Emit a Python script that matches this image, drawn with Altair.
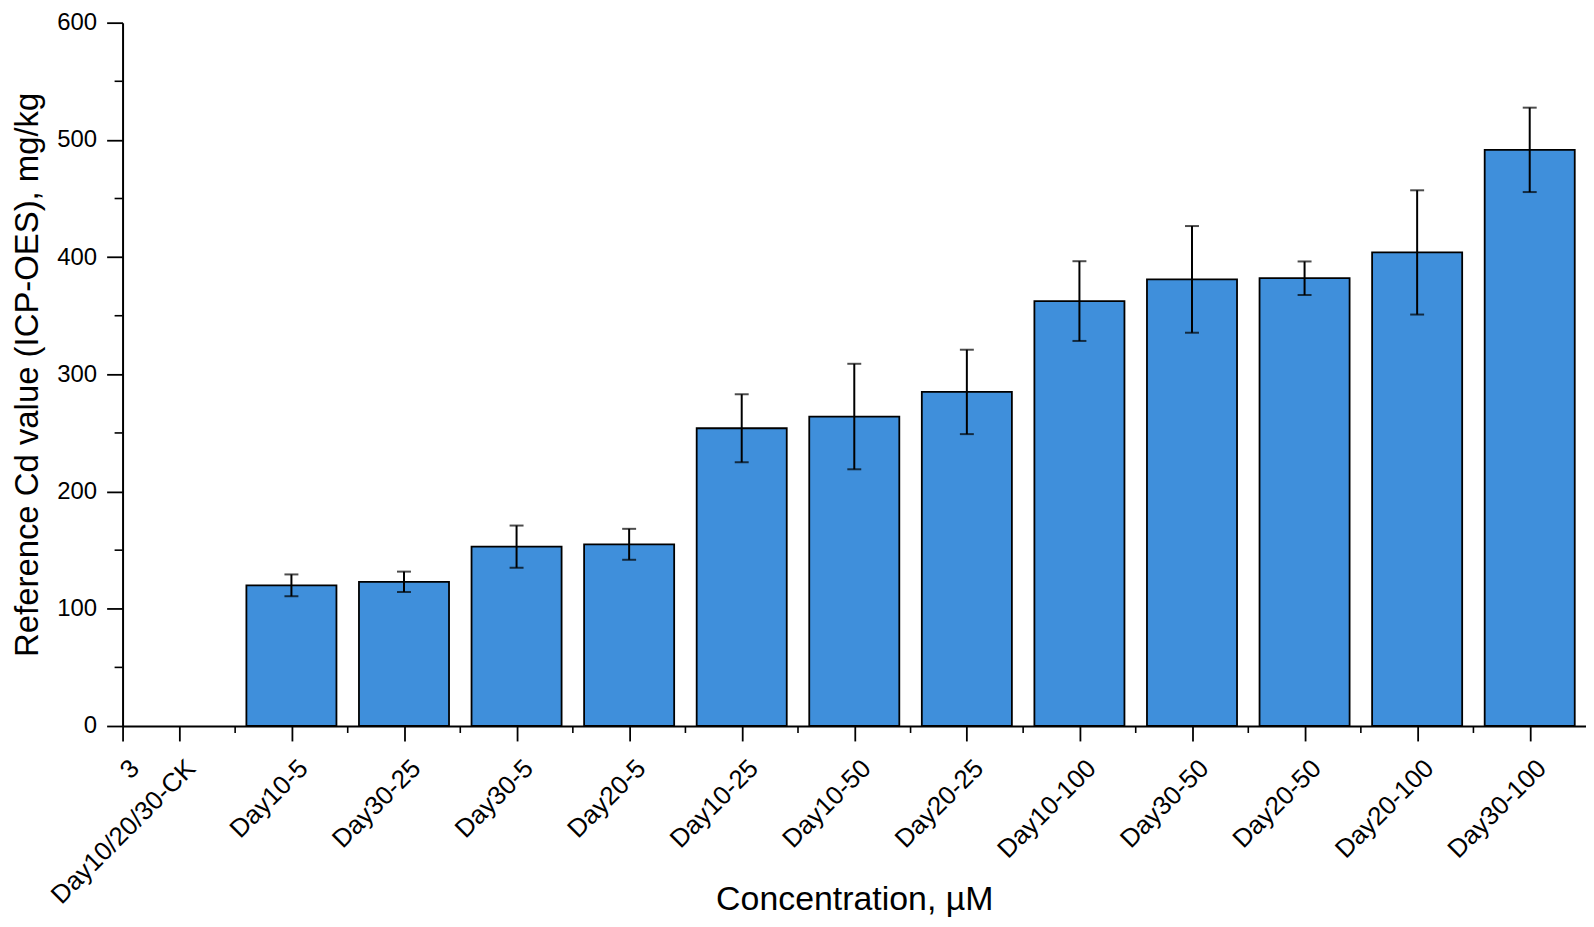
import altair as alt
import pandas as pd

# ---- data ----
categories = ["Day10/20/30-CK", "Day10-5", "Day30-25", "Day30-5", "Day20-5",
              "Day10-25", "Day10-50", "Day20-25", "Day10-100", "Day30-50",
              "Day20-50", "Day20-100", "Day30-100"]
values = [None, 120, 123, 153, 155, 254, 264, 285, 362.5, 381, 382, 404, 491.5]
errors = [None, 9.3, 8.7, 18, 13.2, 29, 45, 36, 34, 45.5, 14.3, 53, 36]
extra_label = "3"          # stray label at the left end of the x axis
y_major = [0, 100, 200, 300, 400, 500, 600]
y_minor = [50, 150, 250, 350, 450, 550]

W, H = 1469, 706
BAR_COLOR = "#3F8FDB"
FONT = "Liberation Sans"

n = len(categories)
df = pd.DataFrame({"cat": categories, "value": values, "err": errors, "pos": list(range(n))})
df = df.dropna()
df["lo"] = df["value"] - df["err"]
df["hi"] = df["value"] + df["err"]

x_tick_values = [-0.5] + list(range(n))
all_labels = [extra_label] + categories
label_array = "[" + ",".join("'" + s + "'" for s in all_labels) + "]"
label_expr = f"{label_array}[datum.value == -0.5 ? 0 : datum.value + 1]"

x_scale = alt.Scale(domain=[-0.5, n - 0.5], nice=False, zero=False)
y_scale = alt.Scale(domain=[0, 600], nice=False)

common = dict(grid=False, domainColor="black", domainWidth=2, tickColor="black",
              tickWidth=1.8, labelColor="black", titleColor="black",
              labelFont=FONT, titleFont=FONT, titleFontWeight="normal",
              labelFontWeight="normal", labelLimit=500)

x_axis = alt.Axis(values=x_tick_values, labelExpr=label_expr,
                  title="Concentration, µM", titleX=W / 2, titleY=184,
                  titleAlign="center", titleBaseline="alphabetic",
                  titleFontSize=34,
                  labelAngle=315, labelAlign="right", labelBaseline="middle",
                  labelPadding=23, labelOffset=12, labelFontSize=26,
                  tickSize=15, labelOverlap=False, labelBound=False,
                  labelFlush=False, **common)
y_axis = alt.Axis(values=y_major, title="Reference Cd value (ICP-OES), mg/kg",
                  titleAngle=270, titleX=-95, titleY=H / 2,
                  titleAlign="center", titleBaseline="middle",
                  titleFontSize=33, labelFontSize=24, labelPadding=10,
                  tickSize=16, labelBaseline="middle", **common)

base = alt.Chart(df)

bars = base.transform_calculate(
    x0="datum.pos - 0.4", x1="datum.pos + 0.4"
).mark_bar(fill=BAR_COLOR, stroke="black", strokeWidth=1.8).encode(
    x=alt.X("x0:Q", scale=x_scale, axis=x_axis),
    x2="x1:Q",
    y=alt.Y("value:Q", scale=y_scale, axis=y_axis),
    y2=alt.datum(0),
)

errs = base.mark_errorbar(ticks=True, size=14, thickness=2, color="black",
                          orient="vertical").encode(
    x=alt.X("pos:Q", scale=x_scale, axis=x_axis),
    y=alt.Y("lo:Q", scale=y_scale, axis=y_axis),
    y2="hi:Q",
)

ym = alt.Chart(pd.DataFrame({"v": y_minor})).mark_rule(color="black", strokeWidth=1.6).encode(
    y=alt.Y("v:Q", scale=y_scale, axis=y_axis),
    x=alt.value(-8), x2=alt.value(0),
)

x_minor = [i + 0.5 for i in range(n - 1)]
xm = alt.Chart(pd.DataFrame({"p": x_minor})).mark_rule(color="black", strokeWidth=1.6).encode(
    x=alt.X("p:Q", scale=x_scale, axis=x_axis),
    y=alt.value(H), y2=alt.value(H + 7),
)

chart = alt.layer(bars, errs, ym, xm).properties(
    width=W, height=H,
    autosize=alt.AutoSizeParams(type="none"),
    padding={"left": 115, "top": 13, "right": 0, "bottom": 190},
    background="white",
).configure_view(strokeWidth=0)

chart.save("out.html", embed_options={"renderer": "svg", "actions": False})
